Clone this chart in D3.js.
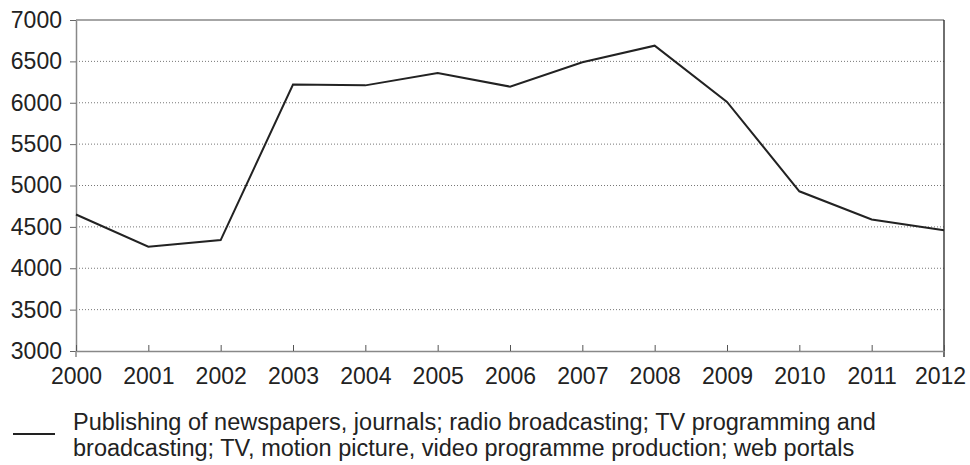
<!DOCTYPE html>
<html>
<head>
<meta charset="utf-8">
<script src="https://cdn.jsdelivr.net/npm/d3@7"></script>
<style>
  body { margin: 0; background: #fff; }
  svg text { font-family: "Liberation Sans", Arial, sans-serif; fill: #222; }
</style>
</head>
<body>
<div id="chart"></div>
<script>
// data
var years = [2000, 2001, 2002, 2003, 2004, 2005, 2006, 2007, 2008, 2009, 2010, 2011, 2012];
var values = [4650, 4260, 4340, 6220, 6210, 6360, 6195, 6490, 6690, 6010, 4930, 4590, 4460];
var yTicks = [3000, 3500, 4000, 4500, 5000, 5500, 6000, 6500, 7000];
var legendLines = [
    "Publishing of newspapers, journals; radio broadcasting; TV programming and",
    "broadcasting; TV, motion picture, video programme production; web portals"
];

var W = 970, H = 465;
var margin = {top: 20, right: 26, bottom: 114, left: 76};
var width = W - margin.left - margin.right;
var height = H - margin.top - margin.bottom;

var svg = d3.select("#chart").append("svg")
    .attr("width", W)
    .attr("height", H);

var g = svg.append("g")
    .attr("transform", "translate(" + margin.left + "," + margin.top + ")");

var x = d3.scaleLinear().domain([2000, 2012]).range([0, width]);
var y = d3.scaleLinear().domain([3000, 7000]).range([height, 0]);

// dotted grid lines
g.selectAll(".grid")
    .data(yTicks.filter(function(d) { return d > 3000 && d < 7000; }))
    .enter()
    .append("line")
        .attr("x1", 0)
        .attr("x2", width)
        .attr("y1", function(d) { return y(d); })
        .attr("y2", function(d) { return y(d); })
        .style("stroke", "#777")
        .style("stroke-width", 1)
        .style("stroke-dasharray", "1,2");

// top border at 7000
g.append("line")
    .attr("x1", 0).attr("x2", width)
    .attr("y1", y(7000)).attr("y2", y(7000))
    .style("stroke", "#888").style("stroke-width", 1.5);

// right border, runs a little below the axis
g.append("line")
    .attr("x1", width).attr("x2", width)
    .attr("y1", y(7000)).attr("y2", height + 6)
    .style("stroke", "#222").style("stroke-width", 1.3);

// Y axis
var yAxis = g.append("g")
    .call(d3.axisLeft(y).tickValues(yTicks).tickFormat(d3.format("d")).tickSize(6).tickSizeOuter(0).tickPadding(8));
yAxis.select(".domain").style("stroke", "#888").style("stroke-width", 1.5);
yAxis.selectAll(".tick line").style("stroke", "#666");
yAxis.selectAll("text").style("font-size", "23px").style("fill", "#222");

// X axis (ticks point inward)
var xAxis = g.append("g")
    .attr("transform", "translate(0," + height + ")")
    .call(d3.axisBottom(x).tickValues(years).tickFormat(d3.format("d")).tickSize(-6).tickSizeOuter(0).tickPadding(17));
xAxis.select(".domain").style("stroke", "#888").style("stroke-width", 1.5);
xAxis.selectAll(".tick line").style("stroke", "#555");
xAxis.selectAll("text").style("font-size", "23px").style("fill", "#222");
// last label is pulled in to stay inside the frame
xAxis.selectAll("text").filter(function(d) { return d === 2012; }).attr("dx", -4);

// left axis foot
g.append("line")
    .attr("x1", 0).attr("x2", 0)
    .attr("y1", height).attr("y2", height + 6)
    .style("stroke", "#888").style("stroke-width", 1.5);

// the series
var line = d3.line()
    .x(function(d, i) { return x(years[i]); })
    .y(function(d) { return y(d); });

g.append("path")
    .datum(values)
    .attr("d", line)
    .style("fill", "none")
    .style("stroke", "#222")
    .style("stroke-width", 2);

// legend, kept clear of the bottom edge
var legend = svg.append("g").attr("transform", "translate(0,430)");
legend.append("line")
    .attr("x1", 13).attr("x2", 55)
    .attr("y1", 4).attr("y2", 4)
    .style("stroke", "#222").style("stroke-width", 2);
legend.selectAll("text")
    .data(legendLines)
    .enter()
    .append("text")
        .attr("x", 73)
        .attr("y", function(d, i) { return i * 26; })
        .style("font-size", "23.5px")
        .text(function(d) { return d; });
</script>
</body>
</html>
